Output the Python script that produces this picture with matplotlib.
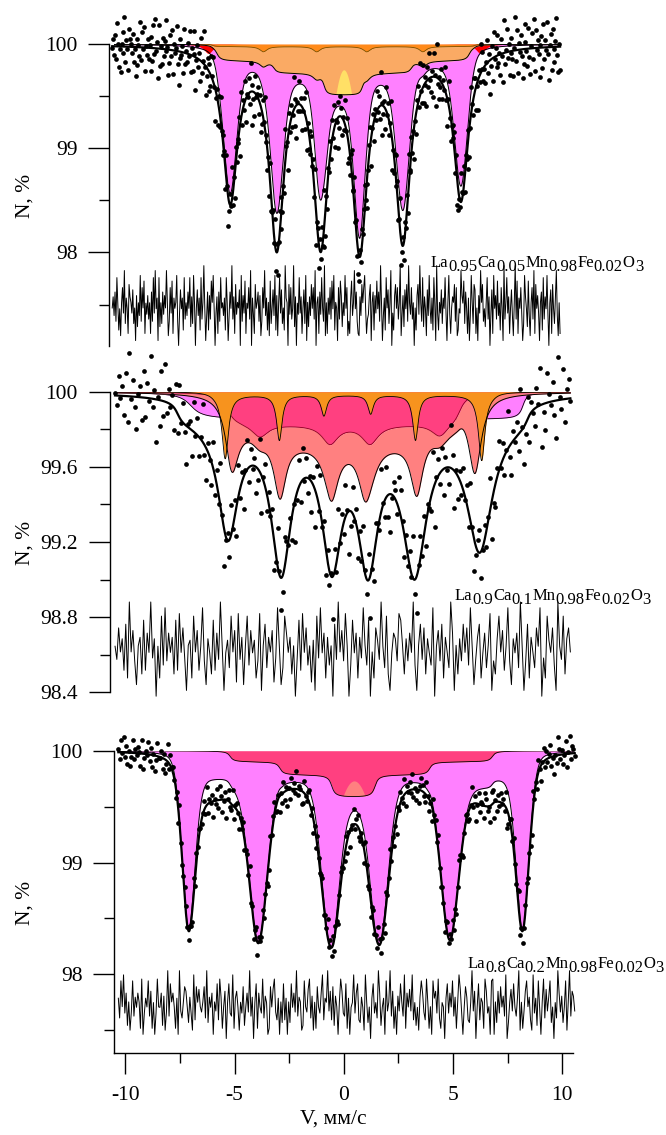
import numpy as np
import matplotlib
matplotlib.use("Agg")
import matplotlib.pyplot as plt
from matplotlib.ticker import MultipleLocator, FuncFormatter

plt.rcParams['font.family'] = ['Liberation Serif', 'DejaVu Serif']
plt.rcParams['axes.unicode_minus'] = False

# ---------------- data ----------------
# peaks: (position mm/s, depth %, FWHM[, lorentz fraction]); bands: (start, end, depth, edge[, edge2]);
# caps: (centre, half width, height)

# panel 1: La0.95Ca0.05Mn0.98Fe0.02O3
p1_range = (-10.6, 9.9)
p1_orange_peaks = [(-3.68, 0.05, 0.4), (-1.24, 0.05, 0.4), (1.05, 0.05, 0.4), (3.62, 0.05, 0.4)]
p1_orange_bands = [(-6.0, 6.0, 0.025, 0.1)]
p1_peach_bands = [(-5.8, 5.75, 0.14, 0.12), (-3.2, 3.1, 0.12, 0.12), (-0.9, 0.85, 0.22, 0.1)]
p1_yellow_cap = [(0.0, 0.36, 0.24)]
p1_red_peaks = [(-6.2, 0.09, 0.5), (6.25, 0.09, 0.5)]
p1_magenta_peaks = [(-5.2, 1.26, 0.7, 0.35), (-3.07, 1.34, 0.7, 0.35), (-1.06, 1.12, 0.6, 0.35),
                    (0.73, 1.37, 0.6, 0.35), (2.7, 1.3, 0.7, 0.35), (5.36, 1.2, 0.7, 0.35)]
p1_fit_peaks = [(-5.2, 1.45, 0.8), (-3.07, 1.85, 0.8), (-1.06, 1.8, 0.8),
                (0.73, 1.85, 0.8), (2.7, 1.8, 0.8), (5.36, 1.45, 0.8)]
p1_noise = ["4637285140573926418653724061539274815362",
            "5172839460815273649502738164592037461825",
            "3748162950473618259403716285940361728453",
            "6185037492618354709263815472906318457260",
            "2749361508247391605837241965083724916053",
            "8361472905163847290561738429051637284915",
            "4072861539470216835947210638579412368057",
            "1638472950361847259031684725903617482953",
            "7250416839528164073942618509315372648305",
            "9314658270143965827416039528714063958241",
            "5826037194628351740925836147305928164730",
            "2964183057291846305718264930571842693051"]
p1_noise_amp = 0.28
p1_resid = (97.49, 1.2)
p1_formula = ["La", "0.95", "Ca", "0.05", "Mn", "0.98", "Fe", "0.02", "O", "3"]

# panel 2: La0.9Ca0.1Mn0.98Fe0.02O3
p2_range = (-10.47, 10.37)
p2_orange_peaks = [(-5.43, 0.34, 0.35), (-2.95, 0.24, 0.3), (-0.91, 0.11, 0.3),
                   (1.23, 0.1, 0.3), (3.28, 0.24, 0.3), (6.31, 0.35, 0.35)]
p2_orange_bands = [(-6.0, 6.9, 0.018, 0.2)]
p2_crimson_bands = [(-5.3, 5.3, 0.18, 0.25)]
p2_crimson_peaks = [(-3.84, 0.07, 0.9), (-0.63, 0.1, 0.9), (1.2, 0.1, 0.9), (4.4, 0.07, 0.9)]
p2_salmon_peaks = [(-5.13, 0.28, 0.7), (-2.92, 0.345, 0.7), (-0.55, 0.19, 0.7),
                   (0.97, 0.21, 0.7), (3.34, 0.33, 0.7), (6.0, 0.4, 0.7)]
p2_salmon_bands = [(-2.5, 3.0, 0.1, 0.4)]
p2_magenta_bands = [(-7.0, 8.2, 0.15, 0.4, 0.15)]
p2_fit_peaks = [(-5.3, 0.61, 1.1), (-2.87, 0.77, 1.1), (-0.55, 0.71, 1.1),
                (1.11, 0.71, 1.1), (3.24, 0.77, 1.3), (6.22, 0.68, 1.4)]
p2_fit_bands = [(-7.6, 8.4, 0.13, 0.2)]
p2_noise = ["53746281947305618274936051829374",
            "61829473056184725930641827395046",
            "28471936058274613905826471395028",
            "74615038294725160839471625083947",
            "39502847163952804176395281047639",
            "85163749205837164290573816429705",
            "16384729503681472590316847259306",
            "47295038164275903186472095381674"]
p2_noise_amp = 0.2
p2_resid = (98.63, 1.1)
p2_formula = ["La", "0.9", "Ca", "0.1", "Mn", "0.98", "Fe", "0.02", "O", "3"]

# panel 3: La0.8Ca0.2Mn0.98Fe0.02O3
p3_range = (-10.32, 10.57)
p3_crimson_bands = [(-5.2, 6.8, 0.1, 0.12), (-2.92, 3.93, 0.12, 0.12), (-0.55, 1.43, 0.21, 0.12)]
p3_salmon_cap = [(0.47, 0.5, 0.14)]
p3_magenta_peaks = [(-7.12, 1.45, 0.7, 0.2), (-3.91, 1.55, 1.0, 0.2), (-0.63, 1.43, 0.9, 0.2),
                    (1.64, 1.45, 0.9, 0.2), (4.85, 1.53, 1.0, 0.2), (8.2, 1.45, 0.7, 0.2)]
p3_magenta_bands = [(-7.15, -4.6, 0.24, 0.15, 0.45), (5.5, 8.25, 0.24, 0.45, 0.15)]
p3_fit_peaks = [(-7.12, 1.37, 0.7, 0.35), (-3.91, 1.53, 1.0, 0.35), (-0.63, 1.41, 1.0, 0.35),
                (1.64, 1.43, 1.0, 0.35), (4.85, 1.51, 1.0, 0.35), (8.2, 1.36, 0.7, 0.35)]
p3_fit_bands = [(-7.15, -4.8, 0.45, 0.25, 0.5), (5.9, 8.25, 0.45, 0.5, 0.25)]
p3_noise = ["62849371503826475190364827150394",
            "47160392857416093258741630928574",
            "35829164705382961470583291674053",
            "81473926058174392650184793260518",
            "26051847392650184379260518437926",
            "59372816405973281604593782164095",
            "14068352971460835927140638529174",
            "73925140687329514086739215406837",
            "48261597304862159370482651973408",
            "90517384629015738426905137846209",
            "36184059273681405297361480592763"]
p3_noise_amp = 0.14
p3_resid = (97.73, 1.9)
p3_formula = ["La", "0.8", "Ca", "0.2", "Mn", "0.98", "Fe", "0.02", "O", "3"]

# digit -> scatter level; the three gains keep the levels from lining up in rows
noise_levels = [-1.0, -0.7, -0.45, -0.25, -0.08, 0.08, 0.25, 0.45, 0.7, 1.0]
noise_gains = [0.86, 1.0, 1.14]

MAGENTA = '#FF80FF'
CRIMSON = '#FF4080'
SALMON = '#FF8080'


def peaks(x, spec):
    out = np.zeros_like(x)
    for item in spec:
        pos, amp, fwhm = item[:3]
        eta = item[3] if len(item) > 3 else 1.0
        d = (x - pos) / (fwhm / 2)
        out += amp * (eta / (1 + d ** 2) + (1 - eta) * np.exp(-np.log(2) * d ** 2))
    return out


def band(x, spec):
    out = np.zeros_like(x)
    for item in spec:
        a, b, d, ea = item[:4]
        eb = item[4] if len(item) > 4 else ea
        out += d * (np.arctan((x - a) / ea) - np.arctan((x - b) / eb)) / np.pi
    return out


def cap(x, spec):
    out = np.zeros_like(x)
    for c, hw, h in spec:
        out += np.clip(h * (1 - ((x - c) / hw) ** 2), 0, None)
    return out


def noise(rows, amp):
    digits = ''.join(rows)
    return np.array([noise_levels[int(ch)] * noise_gains[i % 3]
                     for i, ch in enumerate(digits)]) * amp


def formula(ax, x, y, parts, size=12):
    t = ax.text(x, y, parts[0], fontsize=size, va='bottom', ha='left',
                transform=ax.transData, clip_on=False)
    for i, s in enumerate(parts[1:], start=1):
        dy = -3 if i % 2 == 1 else 3
        t = ax.annotate(s, xy=(1, 0), xycoords=t, xytext=(0, dy),
                        textcoords='offset points', fontsize=size,
                        va='bottom', ha='left', annotation_clip=False)


def data_and_fit(ax, rng, fit_depth_fn, rows, amp, resid):
    xs = np.linspace(rng[0], rng[1], len(''.join(rows)))
    dev = noise(rows, amp)
    xf = np.linspace(rng[0], rng[1], 1500)
    ax.plot(xf, 100 - fit_depth_fn(xf), color='k', lw=1.6, zorder=8, clip_on=False)
    ax.plot(xs, 100 - fit_depth_fn(xs) + dev, 'o', color='k', ms=3.4, mew=0,
            zorder=9, clip_on=False)
    ax.plot(xs, resid[0] + resid[1] * dev, color='k', lw=0.7, zorder=7, clip_on=False)


# ---------------- figure ----------------
fig = plt.figure(figsize=(6.66, 11.35), dpi=100)
L, W = 114.4 / 666, 458.8 / 666


def panel(top_px, bot_px):
    ax = fig.add_axes([L, 1 - bot_px / 1135, W, (bot_px - top_px) / 1135])
    ax.patch.set_visible(False)
    for sp in ('top', 'right'):
        ax.spines[sp].set_visible(False)
    ax.set_xlim(-10.5, 10.5)
    ax.tick_params(axis='y', which='major', length=15, width=1.0, labelsize=15.5, pad=8)
    ax.tick_params(axis='y', which='minor', length=7.5, width=1.0)
    ax.spines['left'].set_linewidth(1.0)
    return ax


ax1 = panel(44, 346.2)
ax2 = panel(391.7, 692.3)
ax3 = panel(750.7, 1052.7)

ax1.set_ylim(97.1, 100)
ax2.set_ylim(98.4, 100)
ax3.set_ylim(97.3, 100)
for ax in (ax1, ax3):
    ax.yaxis.set_major_locator(MultipleLocator(1))
    ax.yaxis.set_minor_locator(MultipleLocator(0.5))
ax2.yaxis.set_major_locator(MultipleLocator(0.4))
ax2.yaxis.set_minor_locator(MultipleLocator(0.2))
ax2.yaxis.set_major_formatter(FuncFormatter(lambda v, _: f'{v:.1f}'.rstrip('0').rstrip('.')))

for ax, off in ((ax1, 3.6), (ax2, 3.2)):
    ax.spines['bottom'].set_visible(False)
    ax.spines['left'].set_position(('outward', off))
    ax.tick_params(axis='x', which='both', bottom=False, labelbottom=False)

ax3.xaxis.set_major_locator(MultipleLocator(5))
ax3.xaxis.set_minor_locator(MultipleLocator(2.5))
ax3.tick_params(axis='x', which='major', length=15, width=1.0, labelsize=15.5, pad=9)
ax3.tick_params(axis='x', which='minor', length=7.5, width=1.0)
ax3.spines['bottom'].set_linewidth(1.0)

# ---- panel 1 ----
x = np.linspace(*p1_range, 1500)
o = peaks(x, p1_orange_peaks) + band(x, p1_orange_bands)
s = band(x, p1_peach_bands)
m = peaks(x, p1_magenta_peaks)
r = peaks(x, p1_red_peaks)
y_o, y_s = 100 - o, 100 - o - s
y_m = y_s - m
ax1.fill_between(x, y_s, y_m, color=MAGENTA, lw=0, zorder=1)
ax1.fill_between(x, 100, 100 - r, color='#FF0000', lw=0, zorder=2)
ax1.fill_between(x, y_o, y_s, color='#FAAA64', lw=0, zorder=3)
ax1.fill_between(x, y_s, y_s + cap(x, p1_yellow_cap), color='#FFE066', lw=0, zorder=4)
ax1.fill_between(x, 100, y_o, color='#FF8A1A', lw=0, zorder=5)
ax1.plot(x, y_o, color='#7a5000', lw=0.6, zorder=6)
ax1.plot(x, y_s, color='k', lw=0.7, zorder=6)
ax1.plot(x, y_m, color='k', lw=0.7, zorder=6)
data_and_fit(ax1, p1_range, lambda v: peaks(v, p1_fit_peaks), p1_noise, p1_noise_amp, p1_resid)
formula(ax1, 3.99, 97.82, p1_formula)

# ---- panel 2 ----
x = np.linspace(*p2_range, 1500)
o = peaks(x, p2_orange_peaks) + band(x, p2_orange_bands)
c = band(x, p2_crimson_bands) + peaks(x, p2_crimson_peaks)
s = peaks(x, p2_salmon_peaks) + band(x, p2_salmon_bands)
mg = band(x, p2_magenta_bands)
ax2.fill_between(x, 100, 100 - mg, color=MAGENTA, lw=0, zorder=1)
ax2.plot(x, 100 - mg, color='k', lw=0.6, zorder=1.5)
ax2.fill_between(x, 100, 100 - c, color=CRIMSON, lw=0, zorder=2)
ax2.fill_between(x, 100 - c, 100 - c - s, color=SALMON, lw=0, zorder=3)
ax2.plot(x, 100 - c, color='#8B0020', lw=0.6, zorder=3.5)
ax2.fill_between(x, 100, 100 - o, color='#F7931E', lw=0, zorder=4)
ax2.plot(x, 100 - c - s, color='k', lw=0.7, zorder=5)
ax2.plot(x, 100 - o, color='k', lw=0.6, zorder=5)
data_and_fit(ax2, p2_range, lambda v: peaks(v, p2_fit_peaks) + band(v, p2_fit_bands),
             p2_noise, p2_noise_amp, p2_resid)
formula(ax2, 5.08, 98.87, p2_formula)

# ---- panel 3 ----
x = np.linspace(*p3_range, 1500)
c = band(x, p3_crimson_bands)
m = peaks(x, p3_magenta_peaks) + band(x, p3_magenta_bands)
ax3.fill_between(x, 100 - c, 100 - c - m, color=MAGENTA, lw=0, zorder=1)
ax3.fill_between(x, 100, 100 - c, color=CRIMSON, lw=0, zorder=2)
ax3.fill_between(x, 100 - c, 100 - c + cap(x, p3_salmon_cap), color=SALMON, lw=0, zorder=3)
ax3.plot(x, 100 - c, color='k', lw=0.6, zorder=4)
ax3.plot(x, 100 - c - m, color='k', lw=0.7, zorder=4)
data_and_fit(ax3, p3_range,
             lambda v: peaks(v, p3_fit_peaks) + band(v, p3_fit_bands) + band(v, p3_crimson_bands),
             p3_noise, p3_noise_amp, p3_resid)
formula(ax3, 5.68, 98.02, p3_formula)

# ---- labels ----
for yc in (196, 543, 903):
    fig.text(25 / 666, 1 - yc / 1135, 'N, %', rotation=90, fontsize=15.5,
             ha='center', va='center')
fig.text(333 / 666, 1 - 1119 / 1135, 'V, мм/с', fontsize=15.5, ha='center', va='center')

fig.savefig('out.png', dpi=100)
